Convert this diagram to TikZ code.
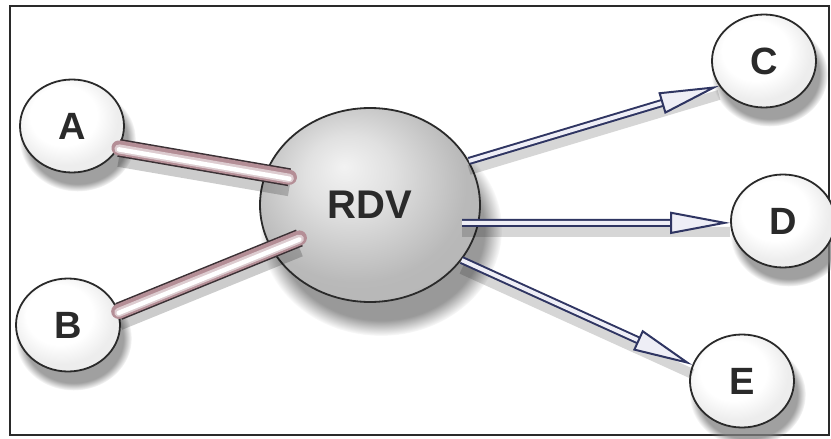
\documentclass[tikz,border=0pt]{standalone}
\usepackage{fontspec}
\setmainfont{Liberation Sans}
\usetikzlibrary{shapes.geometric}
\usetikzlibrary{shadows}
\usetikzlibrary{arrows.meta}
\usetikzlibrary{calc}

\definecolor{ink}{HTML}{2A2A2A}
\definecolor{pipeedge}{HTML}{3A3034}
\definecolor{pipepink}{HTML}{B48E96}
\definecolor{flowblue}{HTML}{2F3562}
\definecolor{flowfill}{HTML}{EEEEF6}

\pgfdeclareradialshading{hubshade}{\pgfpoint{-6bp}{10bp}}{color(0bp)=(gray!10); color(10bp)=(gray!24); color(25bp)=(gray!55); color(50bp)=(gray!62)}
\pgfdeclareradialshading{leafshade}{\pgfpoint{-6bp}{8bp}}{color(0bp)=(white); color(16bp)=(white); color(25bp)=(gray!14); color(50bp)=(gray!16)}

\begin{document}
\begin{tikzpicture}[x=1pt,y=-1pt,
leaf/.style={ellipse,draw=ink,line width=1.8pt,inner sep=0pt,
  minimum width=104pt,minimum height=93pt,shading=leafshade,
  text=ink,font=\fontsize{38}{38}\selectfont\bfseries,
  circular drop shadow={shadow xshift=5pt,shadow yshift=-12pt,shadow scale=1.12,opacity=.75}},
hub/.style={ellipse,draw=ink,line width=1.8pt,inner sep=0pt,
  minimum width=220pt,minimum height=194pt,shading=hubshade,
  text=ink,font=\fontsize{40}{40}\selectfont\bfseries,
  circular drop shadow={shadow xshift=10pt,shadow yshift=-22pt,shadow scale=1.1,opacity=.8}},
pipe/.style={line cap=round,draw=pipepink,line width=15pt,
  preaction={draw=black,opacity=.2,line width=18pt,transform canvas={yshift=-10pt}},
  preaction={draw=pipeedge,line width=18pt},
  postaction={draw=white!55!pipepink,line width=9pt,transform canvas={yshift=-1pt}},
  postaction={draw=white,line width=4.5pt,transform canvas={yshift=-1.5pt}}},
flow/.style={draw=flowblue,line width=2pt,double=flowfill,double distance=4pt,
  preaction={draw=black,opacity=.16,line width=10pt,double=none,transform canvas={yshift=-9pt},arrows=-},
  -{Triangle[length=60pt,width=22pt,fill=flowfill]}}]
\useasboundingbox (0,0) rectangle (831,439);
\draw[ink,line width=2pt] (10,6) rectangle (829,435);

\node[hub] (rdv) at (370,205) {RDV};
\node[leaf] (a) at (72,126) {A};
\node[leaf] (b) at (68,325) {B};
\node[leaf] (c) at (764,61) {C};
\node[leaf] (d) at (783,221) {D};
\node[leaf] (e) at (742,381) {E};

% inputs
\draw[pipe] (a.-25) -- ($(rdv.center)!.78!(rdv.161)$);
\draw[pipe] (b.15) -- ($(rdv.center)!.72!(rdv.205)$);
% outputs
\draw[flow] (rdv.24) -- (c.209);
\draw[flow] ($(rdv.center)!.85!(rdv.-11)$) -- (d.182);
\draw[flow] (rdv.-31) -- (e.162);
\end{tikzpicture}
\end{document}
